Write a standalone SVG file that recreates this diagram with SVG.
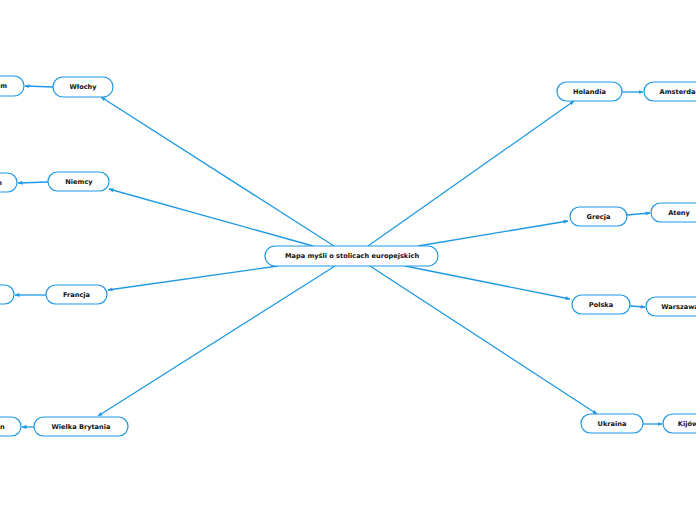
<svg xmlns="http://www.w3.org/2000/svg" width="696" height="520" viewBox="0 0 696 520">
<defs>
<marker id="ah" viewBox="0 0 10 10" refX="9" refY="5" markerWidth="5" markerHeight="5" orient="auto" markerUnits="userSpaceOnUse"><path d="M0,1 L10,5 L0,9 z" fill="#1e98e4"/></marker>
<style>
.n rect{fill:#fff;stroke:#1e98e4;stroke-width:1.2}
.n text{font-family:"DejaVu Sans",Verdana,sans-serif;font-weight:bold;font-size:6.6px;fill:#111;text-anchor:middle;dominant-baseline:central}
#connectors line{stroke:#1e98e4;stroke-width:1.3;marker-end:url(#ah)}
</style>
</defs>
<rect width="696" height="520" fill="#fff"/>
<g id="connectors">
<line x1="334" y1="246" x2="101" y2="97"/>
<line x1="313" y1="246" x2="109" y2="189"/>
<line x1="278" y1="266" x2="108" y2="290"/>
<line x1="335" y1="266" x2="98" y2="416"/>
<line x1="368" y1="246" x2="574" y2="101"/>
<line x1="418" y1="246" x2="568" y2="221"/>
<line x1="405" y1="266" x2="570" y2="299"/>
<line x1="370" y1="266" x2="597" y2="414"/>
<line x1="53" y1="87" x2="25" y2="86"/>
<line x1="48" y1="182" x2="18" y2="183"/>
<line x1="46" y1="295" x2="15" y2="295"/>
<line x1="34" y1="427" x2="22" y2="427"/>
<line x1="622" y1="92" x2="643" y2="92"/>
<line x1="627" y1="215" x2="650" y2="213"/>
<line x1="630" y1="306" x2="645" y2="307"/>
<line x1="643" y1="424" x2="662" y2="424"/>
</g>
<g id="center" class="n"><rect x="265" y="246" width="173" height="20" rx="10"/><text x="352" y="256">Mapa myśli o stolicach europejskich</text></g>
<g id="wlochy" class="n"><rect x="53" y="77" width="60" height="20" rx="10"/><text x="83" y="87">Włochy</text></g>
<g id="rzym" class="n"><rect x="-30" y="76" width="54" height="20" rx="10"/><text x="-3" y="86">Rzym</text></g>
<g id="niemcy" class="n"><rect x="48" y="172" width="61" height="19" rx="9.5"/><text x="79" y="181.5">Niemcy</text></g>
<g id="berlin" class="n"><rect x="-38" y="173" width="55" height="19" rx="9.5"/><text x="-9" y="182.5">Berlin</text></g>
<g id="francja" class="n"><rect x="46" y="285" width="61" height="19" rx="9.5"/><text x="76.5" y="294.5">Francja</text></g>
<g id="paryz" class="n"><rect x="-40" y="285" width="54" height="19" rx="9.5"/><text x="-13" y="294.5">Paryż</text></g>
<g id="wielka-brytania" class="n"><rect x="34" y="417" width="94" height="19" rx="9.5"/><text x="81" y="426.5">Wielka Brytania</text></g>
<g id="londyn" class="n"><rect x="-40" y="417" width="61" height="19" rx="9.5"/><text x="-9" y="426.5">Londyn</text></g>
<g id="holandia" class="n"><rect x="557" y="82" width="65" height="19" rx="9.5"/><text x="589.5" y="91.5">Holandia</text></g>
<g id="amsterdam" class="n"><rect x="644" y="82" width="75" height="19" rx="9.5"/><text x="681" y="91.5">Amsterdam</text></g>
<g id="grecja" class="n"><rect x="570" y="207" width="57" height="19" rx="9.5"/><text x="598.5" y="216.5">Grecja</text></g>
<g id="ateny" class="n"><rect x="651" y="203" width="56" height="19" rx="9.5"/><text x="679" y="212.5">Ateny</text></g>
<g id="polska" class="n"><rect x="572" y="295" width="58" height="19" rx="9.5"/><text x="601" y="304.5">Polska</text></g>
<g id="warszawa" class="n"><rect x="646" y="297" width="68" height="19" rx="9.5"/><text x="680" y="306.5">Warszawa</text></g>
<g id="ukraina" class="n"><rect x="581" y="414" width="62" height="19" rx="9.5"/><text x="612" y="423.5">Ukraina</text></g>
<g id="kijow" class="n"><rect x="663" y="414" width="50" height="19" rx="9.5"/><text x="688" y="423.5">Kijów</text></g>
</svg>
